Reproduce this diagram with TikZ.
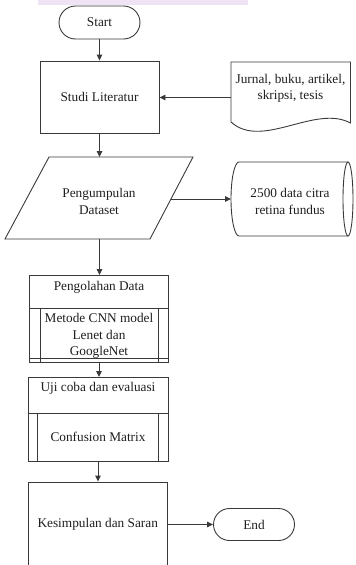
\documentclass[tikz,border=0pt]{standalone}
\usepackage{fontspec}
\setmainfont{Liberation Serif}
\usetikzlibrary{arrows.meta,shapes.misc}
\definecolor{lc}{HTML}{3A3A3A}
\definecolor{tc}{HTML}{1E1E1E}
\definecolor{band}{HTML}{EEE4F4}
\newcommand\dgfont{\fontsize{13.3}{16.5}\selectfont}
\tikzset{
  line/.style={draw=lc, line width=0.9pt},
  arr/.style={line, -{Triangle[length=6pt,width=5.5pt]}},
  term/.style={rounded rectangle, line, minimum width=81pt, minimum height=33pt, inner sep=0pt, text=tc, font=\dgfont},
  proc/.style={rectangle, line, inner sep=0pt, text=tc, font=\dgfont},
  lbl/.style={align=center, inner sep=0pt, text=tc, font=\dgfont},
}
\begin{document}
\begin{tikzpicture}[x=1pt,y=1pt]
\useasboundingbox (0,0) rectangle (356,-565);
\fill[band] (38,0) rectangle (248,-4.7);

% Start
\node[term] (start) at (99.5,-22.5) {Start};

% Studi Literatur
\node[proc, minimum width=119pt, minimum height=72pt] (studi) at (99.5,-97) {Studi Literatur};

% Document
\draw[line] (231,-122) -- (231,-62) -- (350.5,-62) -- (350.5,-123)
  .. controls (315,-104) and (262,-150) .. (231,-122);
\node[lbl] (doc) at (290.5,-88.5) {Jurnal, buku, artikel,\\skripsi, tesis};
\coordinate (docW) at (231,-97.5);

% Pengumpulan Dataset (parallelogram)
\draw[line] (49,-157) -- (193,-157) -- (150,-239) -- (5,-239) -- cycle;
\node[lbl] (peng) at (99,-201.5) {Pengumpulan\\Dataset};
\coordinate (pengN) at (99.5,-157);
\coordinate (pengS) at (99.5,-239);
\coordinate (pengE) at (171,-199);

% Cylinder (stored data)
\draw[line] (348,-162) -- (239,-162) arc[start angle=90,end angle=270,x radius=8,y radius=37] -- (348,-236);
\draw[line] (348,-199) ellipse[x radius=5,y radius=37];
\node[lbl] (cyl) at (290,-201.5) {2500 data citra\\retina fundus};
\coordinate (cylW) at (231,-199);

% Pengolahan Data
\node[proc, minimum width=139pt, minimum height=87pt] (olah) at (99,-319) {};
\draw[line] (29.5,-308) -- (168.5,-308);
\draw[line] (40,-308) -- (40,-362.5);
\draw[line] (158.5,-308) -- (158.5,-362.5);
\draw[line] (29.5,-358.5) -- (168.5,-358.5);
\node[lbl] (olahH) at (99,-287) {Pengolahan Data};
\node[lbl] (olahB) at (99,-336) {Metode CNN model\\Lenet dan\\GoogleNet};

% Uji coba
\node[proc, minimum width=140pt, minimum height=83.5pt] (uji) at (98,-419.25) {};
\draw[line] (28,-413.5) -- (168,-413.5);
\draw[line] (37,-413.5) -- (37,-461);
\draw[line] (158,-413.5) -- (158,-461);
\node[lbl] (ujiH) at (98,-388) {Uji coba dan evaluasi};
\node[lbl] (ujiB) at (98,-437) {Confusion Matrix};

% Kesimpulan
\node[proc, minimum width=139.5pt, minimum height=85pt] (kes) at (97.75,-524.5) {Kesimpulan dan Saran};

% End
\node[term, minimum height=32pt] (end) at (254,-524.5) {End};

% Connectors
\draw[arr] (start.south) -- (start.south |- studi.north);
\draw[arr] (docW) -- (docW -| studi.east);
\draw[arr] (studi.south) -- (pengN);
\draw[arr] (pengE) -- (cylW);
\draw[arr] (pengS) -- (pengS |- olah.north);
\draw[arr] (olah.south) -- (olah.south |- uji.north);
\draw[arr] (uji.south) -- (uji.south |- kes.north);
\draw[arr] (kes.east) -- (end.west);
\end{tikzpicture}
\end{document}
